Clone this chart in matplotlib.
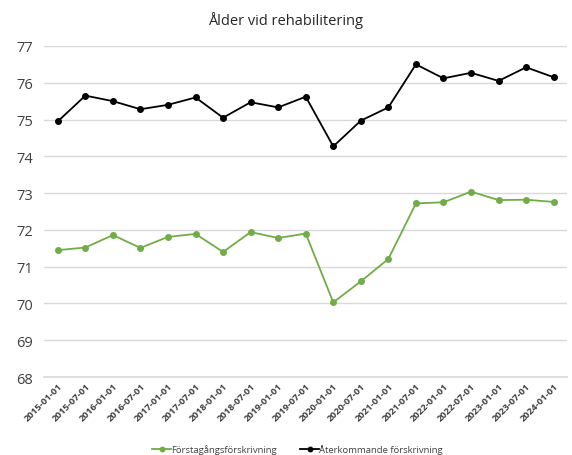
import numpy as np
import matplotlib
matplotlib.use('Agg')
from matplotlib import pyplot as plt

plt.rcParams['font.family'] = ['Open Sans', 'DejaVu Sans']

dates = ['2015-01-01', '2015-07-01', '2016-01-01', '2016-07-01', '2017-01-01',
         '2017-07-01', '2018-01-01', '2018-07-01', '2019-01-01', '2019-07-01',
         '2020-01-01', '2020-07-01', '2021-01-01', '2021-07-01', '2022-01-01',
         '2022-07-01', '2023-01-01', '2023-07-01', '2024-01-01']
forsta = [71.45, 71.52, 71.86, 71.51, 71.81, 71.89, 71.40, 71.94, 71.78, 71.90,
          70.03, 70.60, 71.21, 72.72, 72.75, 73.04, 72.81, 72.82, 72.76]
aterk = [74.95, 75.65, 75.50, 75.28, 75.40, 75.60, 75.05, 75.47, 75.33, 75.62,
         74.27, 74.97, 75.33, 76.50, 76.12, 76.27, 76.05, 76.42, 76.15]

fig = plt.figure(figsize=(5.72, 4.56), dpi=100)
ax = fig.add_axes([0.077, 0.171, 0.915, 0.726])
x = np.arange(len(dates))
ax.plot(x, forsta, color='#70AD47', lw=1.3, marker='o', ms=4, label='Förstagångsförskrivning')
ax.plot(x, aterk, color='black', lw=1.3, marker='o', ms=4, label='Återkommande förskrivning')

ax.set_xlim(-0.5, len(dates) - 0.5)
ax.set_ylim(68, 77)
ax.set_yticks(range(68, 78))
ax.set_xticks(x)
ax.set_xticklabels(dates, rotation=45, ha='right', rotation_mode='anchor',
                   fontsize=6.8, fontweight='bold', color='#404040')
ax.tick_params(axis='y', labelsize=10.5, colors='#404040', length=0, pad=8)
ax.tick_params(axis='x', length=0, pad=3)
ax.grid(axis='y', color='#D9D9D9', lw=1)
ax.axhline(68, color='#D9D9D9', lw=1.2, zorder=0, clip_on=False)
ax.set_axisbelow(True)
for s in ax.spines.values():
    s.set_visible(False)

fig.text(0.5, 0.955, 'Ålder vid rehabilitering', ha='center', va='center', fontsize=10.5, color='#262626')
fig.legend(loc='center', bbox_to_anchor=(0.52, 0.013), ncol=2, frameon=False, fontsize=6.8,
           handlelength=2.0, columnspacing=2.5, handletextpad=0, labelcolor='#404040',
           markerscale=0.8)

fig.savefig('out.png', dpi=100)
